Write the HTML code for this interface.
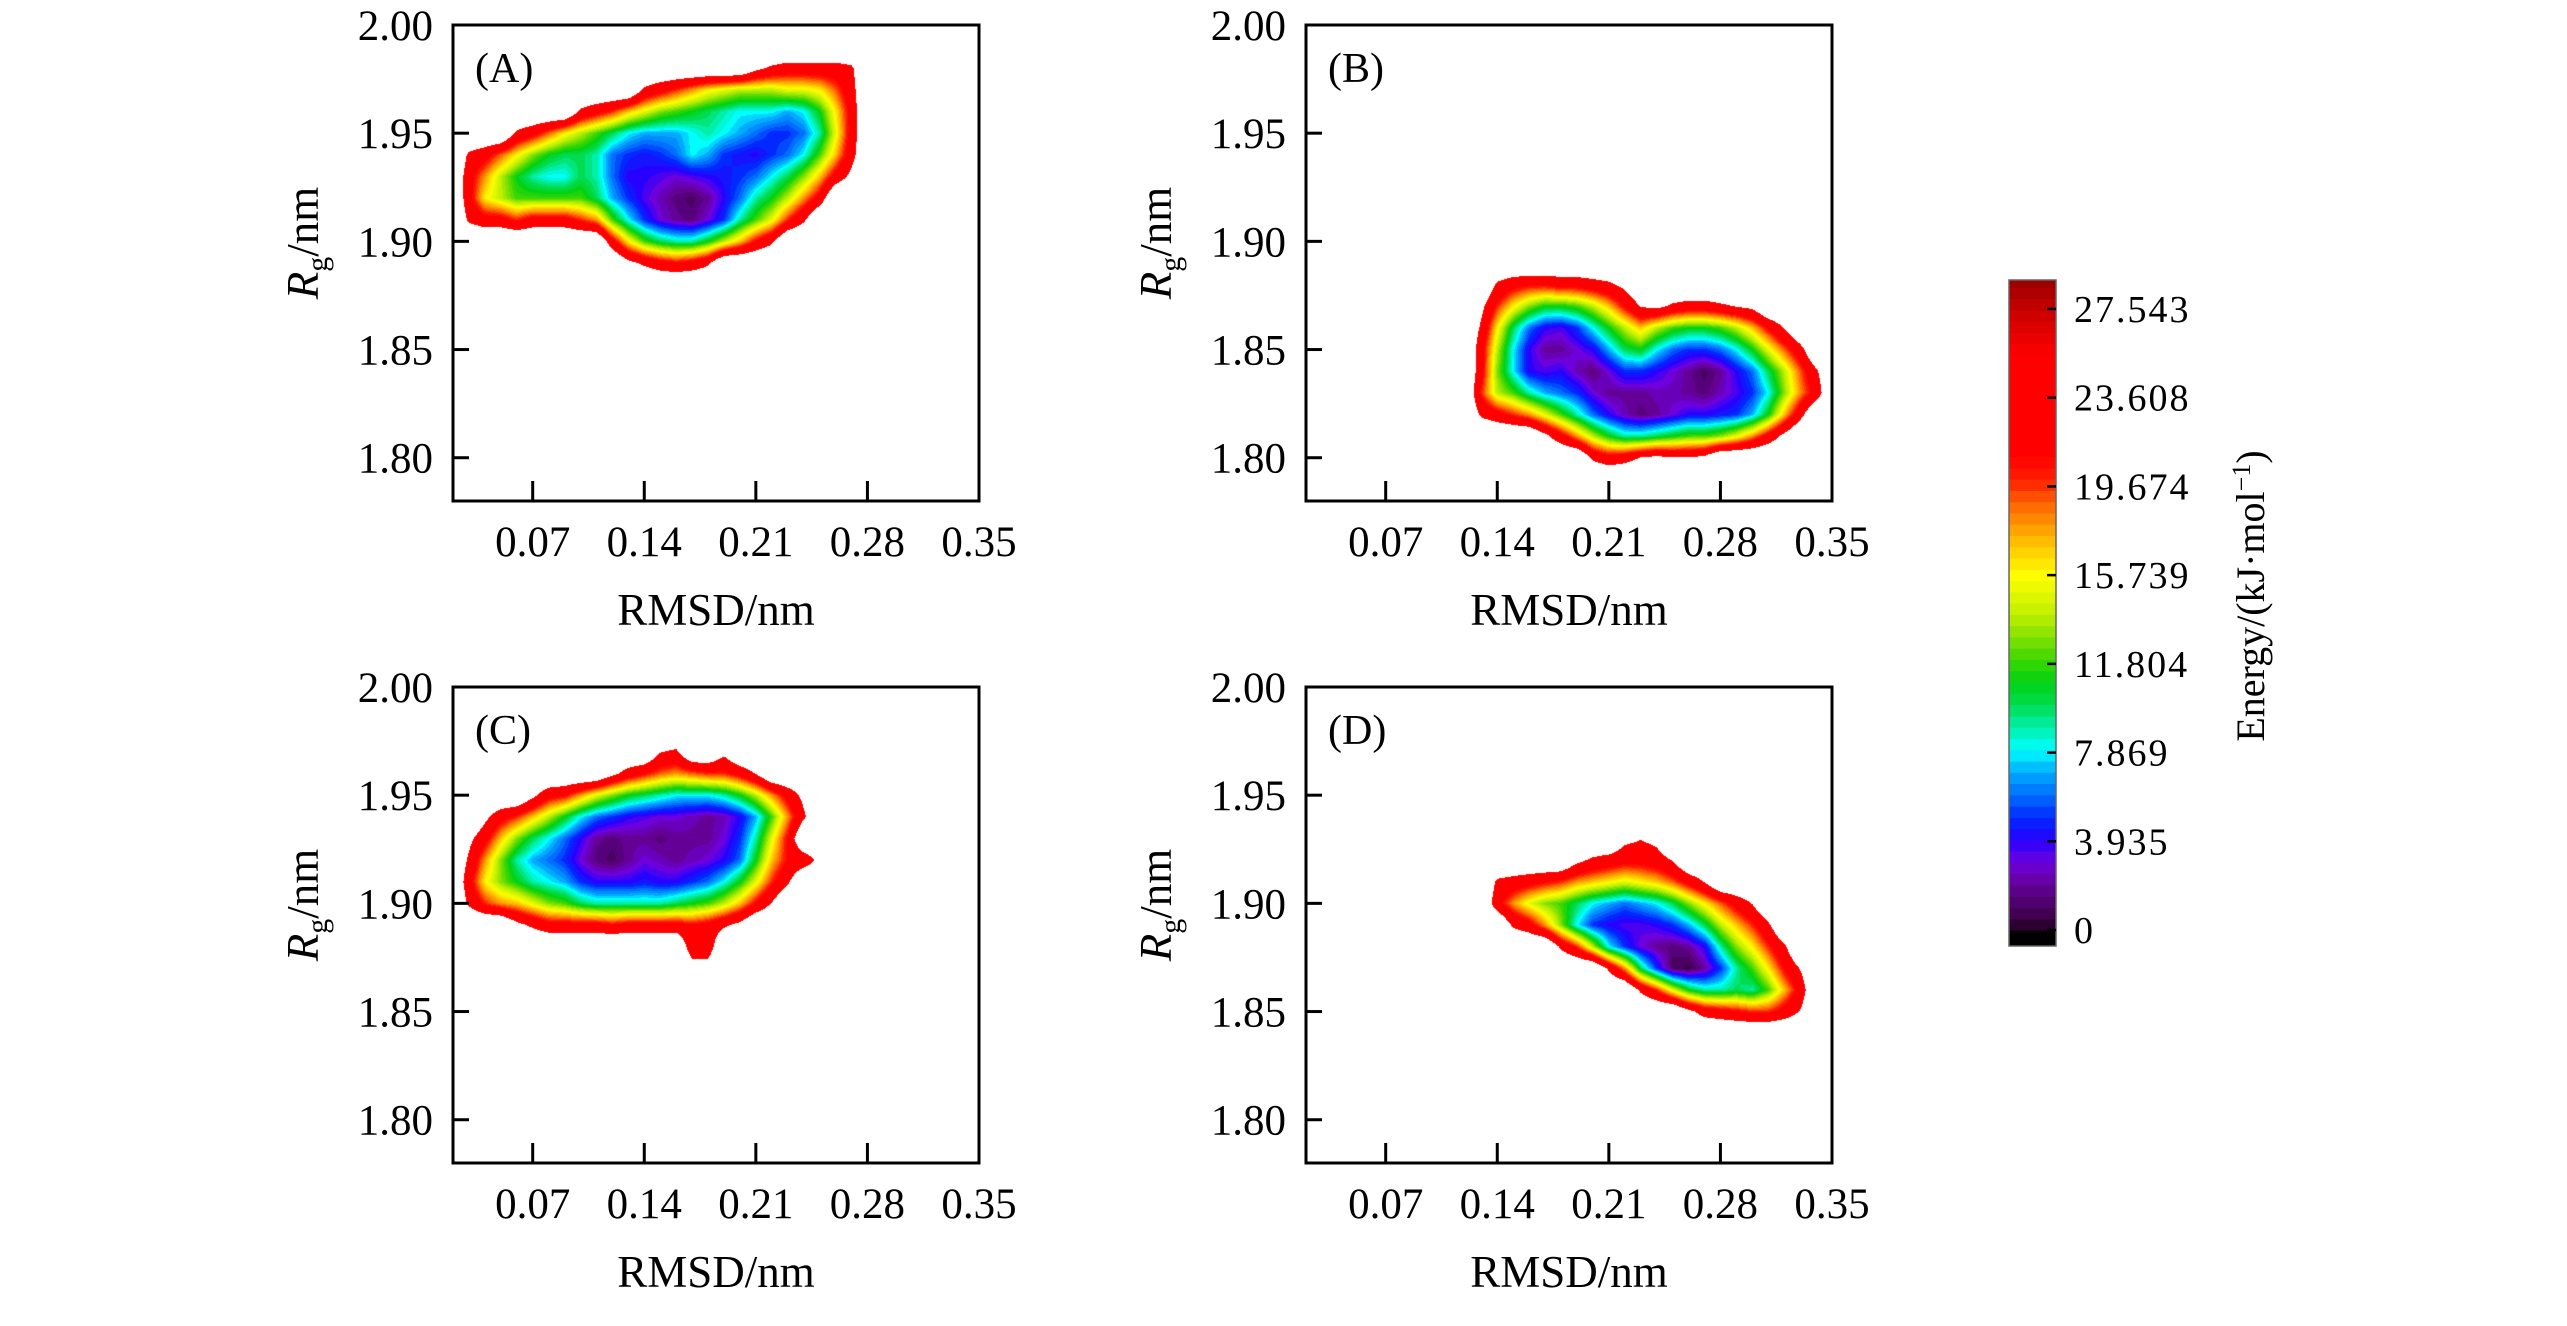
<!DOCTYPE html>
<html><head><meta charset="utf-8"><style>
html,body{margin:0;padding:0;background:#fff;}
#wrap{position:relative;width:2567px;height:1326px;overflow:hidden;background:#fff;}
canvas{position:absolute;}
svg{position:absolute;left:0;top:0;}
text{font-family:"Liberation Serif","Times New Roman",serif;fill:#000;}
</style></head><body>
<div id="wrap">
<svg id="svg" width="2567" height="1326"></svg>
</div>
<script>
// ---- axis data ----
const xTicks=[0.07,0.14,0.21,0.28,0.35];
const xTickLabels=["0.07","0.14","0.21","0.28","0.35"];
const yTicks=[1.80,1.85,1.90,1.95,2.00];
const yTickLabels=["1.80","1.85","1.90","1.95","2.00"];
const cbTicks=[0,3.935,7.869,11.804,15.739,19.674,23.608,27.543];
const cbTickLabels=["0","3.935","7.869","11.804","15.739","19.674","23.608","27.543"];
const panelLetters=["(A)","(B)","(C)","(D)"];

// ---- energy grids (rows: y value, starting x, energies at 0.01 steps) ----
const rowsA_y=[1.98,1.97,1.96,1.95,1.94,1.93,1.92,1.91,1.90,1.89];
const rowsA_x0=[0.21,0.14,0.10,0.06,0.03,0.03,0.03,0.03,0.12,0.13];
const rowsA_v=[
[26,24,23,23,23,23,24],
[24,22,20,18,16,15,14,14,14,15,15,16,19,23],
[24,22,20,17,15,13,12,11,10,9,8,8,8,7,8,11,16,22],
[24,22,19,16,14,12,10,8,7,7,7,8,9,8,7,6,5,5,6,9,15,22],
[24,22,19,16,13,11,10,10,9,6,5,4.5,5,6,8,7,5,4.5,4,5,6,8,12,17,23],
[22,18,14,11,9,8,8,10,9,6,4,4,3.5,3,3.5,4,4.5,5,6,8,10,13,17,22,26],
[22,16,14,12,12,12,12,12,10,7,5,3.5,2.5,1.5,1,2,4,6,9,11,14,18,22],
[24,22,22,20,22,22,22,20,18,12,8,5,3,2,1.5,3,5,9,12,15,20,24],
[22,16,12,10,9,9,11,14,17,21,24],
[26,24,22,21,22,24]];

const rowsB_y=[1.88,1.87,1.86,1.85,1.84,1.83,1.82,1.81,1.80];
const rowsB_x0=[0.14,0.13,0.13,0.13,0.13,0.13,0.13,0.17,0.20];
const rowsB_v=[
[24,22,21,21,22,22,23,24,26],
[26,20,16,13,11,11,12,14,17,21,25,26,24,23,23,24,25,26],
[24,16,10,6,4,3.5,5,8,11,14,17,14,12,11,11,12,14,17,21,25],
[22,14,8,4,2,2,3,4,7,10,11,8,6,5,5,6,8,11,15,19,23],
[22,13,8,4,3.5,4,2.5,1.5,3,5,5,4,3,2,1,2,4,6,10,14,19,24],
[20,14,12,9,7,6,5,3,2,2,2,2.5,2.5,2,1.5,2.5,3.5,5,8,13,18,22],
[24,22,20,18,15,12,9,6,4,2.5,1.5,2,3,4,4,4.5,5,7,11,17,23],
[26,22,18,14,11,9,9,10,11,12,12,13,15,18,22,26],
[24,22,23,25,26,25,25,26]];

const rowsC_y=[1.97,1.96,1.95,1.94,1.93,1.92,1.91,1.90,1.89,1.88,1.87];
const rowsC_x0=[0.15,0.12,0.07,0.04,0.03,0.03,0.03,0.03,0.06,0.17,0.17];
const rowsC_v=[
[25,24,30,30,26],
[26,23,21,19,18,19,20,20,22,25],
[26,22,21,18,15,13,11,10,9,8,8,8,9,11,14,18,22,26],
[26,22,20,17,14,11,8,6,5,4,3.5,3,3,2.5,2,2.5,4,7,12,18,24],
[26,22,17,13,10,8,6,4,2,1.5,2,2,1.5,2,2,2,3,5,9,15,21],
[24,18,13,9,7,6,5,3,1.5,1,2,3,2.5,2,2.5,3,4,6,11,17,21,22,26],
[22,16,13,11,9,8,7,5,4,4,4,4.5,4,4,5,6,8,11,15,20,24],
[24,20,18,17,15,13,12,10,9,9,9,9,9,10,11,12,14,17,21,25],
[26,24,22,22,22,22,21,22,22,22,22,21,22,24,26],
[22,22],
[27,27]];

const rowsD_y=[1.93,1.92,1.91,1.90,1.89,1.88,1.87,1.86,1.85];
const rowsD_x0=[0.22,0.19,0.14,0.14,0.15,0.18,0.21,0.23,0.26];
const rowsD_v=[
[26,25,26],
[26,24,23,22,22,23,25],
[24,23,22,21,20,18,17,16,15,16,17,19,22,25],
[22,18,15,13,12,10,8,7,6,7,8,10,13,16,19,22,25],
[24,22,18,13,8,5,4,3.5,3.5,4,5,7,10,14,17,20,24],
[24,20,14,8,5,3,2,1.5,2,4,9,13,16,20,24],
[24,18,10,5,1,0.5,2,5,9,12,16,21,25],
[24,20,15,11,9,9,10,9,12,17,22],
[26,23,22,21,20,20,22,25]];

// ---- layout ----
const X0=0.02,X1=0.35,Y0=1.78,Y1=2.00,EMPTY=30,CUTOFF=24.8;
const panels=[
 {L:453,R:979,T:25,B:501,y:rowsA_y,x0:rowsA_x0,v:rowsA_v},
 {L:1306,R:1832,T:25,B:501,y:rowsB_y,x0:rowsB_x0,v:rowsB_v},
 {L:453,R:979,T:687,B:1163,y:rowsC_y,x0:rowsC_x0,v:rowsC_v},
 {L:1306,R:1832,T:687,B:1163,y:rowsD_y,x0:rowsD_x0,v:rowsD_v}];
const CB={L:2009,R:2056,T:280,B:946,vTop:28.83,v0px:930,v27px:309};

const stops=[[0,30,0,30],[0.5,60,0,70],[2,100,0,150],[3,110,0,220],[4,40,0,255],[5,0,40,255],[6,0,110,255],[7,0,170,255],[8,0,255,255],[9,0,240,170],[10,0,220,80],[11,0,210,20],[12,60,215,0],[13,130,225,0],[14,190,240,0],[15.7,255,255,0],[17,255,200,0],[18,255,150,0],[19,255,95,0],[20,255,30,0],[21,255,0,0],[25.5,255,0,0],[27,215,0,0],[29,150,0,0]];
function cmap(v){
  if(v<=stops[0][0]) return stops[0].slice(1);
  for(let i=1;i<stops.length;i++){
    if(v<=stops[i][0]){const a=stops[i-1],b=stops[i],t=(v-a[0])/(b[0]-a[0]);
      return [a[1]+(b[1]-a[1])*t,a[2]+(b[2]-a[2])*t,a[3]+(b[3]-a[3])*t];}
  }
  return stops[stops.length-1].slice(1);
}
const NS="http://www.w3.org/2000/svg";
const svg=document.getElementById('svg');
function mk(tag,attrs,parent){const e=document.createElementNS(NS,tag);for(const k in attrs)e.setAttribute(k,attrs[k]);(parent||svg).appendChild(e);return e;}

panels.forEach((p,pi)=>{
  const w=p.R-p.L,h=p.B-p.T;
  const sx=x=>p.L+(x-X0)/(X1-X0)*w;
  const sy=y=>p.B-(y-Y0)/(Y1-Y0)*h;
  const nx=Math.round((X1-X0)/0.01)+1, ny=Math.round((Y1-Y0)/0.01)+1;
  const G=[];for(let j=0;j<ny;j++){G.push(new Array(nx).fill(EMPTY));}
  p.y.forEach((yy,r)=>{const j=Math.round((yy-Y0)/0.01);const i0=Math.round((p.x0[r]-X0)/0.01);
    p.v[r].forEach((val,k)=>{if(G[j]&&i0+k<nx)G[j][i0+k]=val;});});
  const cv=document.createElement('canvas');cv.width=w;cv.height=h;
  cv.style.left=p.L+'px';cv.style.top=p.T+'px';
  
  
  document.getElementById('wrap').insertBefore(cv,svg);
  const ctx=cv.getContext('2d');const img=ctx.createImageData(w,h);
  for(let py=0;py<h;py++){
    const yv=Y1-(py+0.5)/h*(Y1-Y0);const gy=(yv-Y0)/0.01;const j0=Math.floor(gy),fy=gy-j0;
    for(let px=0;px<w;px++){
      const xv=X0+(px+0.5)/w*(X1-X0);const gx=(xv-X0)/0.01;const i0=Math.floor(gx),fx=gx-i0;
      const g=(j,i)=>(G[j]&&G[j][i]!==undefined)?G[j][i]:EMPTY;
      const v=(g(j0,i0)*(1-fx)+g(j0,i0+1)*fx)*(1-fy)+(g(j0+1,i0)*(1-fx)+g(j0+1,i0+1)*fx)*fy;
      const o=(py*w+px)*4;
      if(v>CUTOFF){img.data[o+3]=0;continue;}
      const q=Math.round(v*2)/2;const c=cmap(q);
      img.data[o]=c[0];img.data[o+1]=c[1];img.data[o+2]=c[2];img.data[o+3]=255;
    }
  }
  ctx.putImageData(img,0,0);
  const g=mk('g',{});
  
  
  const fr=mk('rect',{x:p.L,y:p.T,width:w,height:h,fill:'none',stroke:'#000','stroke-width':3},g);
  
  
  xTicks.forEach((t,k)=>{
    if(t<X1-1e-9){const tl=mk('line',{x1:sx(t),x2:sx(t),y1:p.B,y2:p.B-20,stroke:'#000','stroke-width':3},g);
      
      }
    const tx=mk('text',{x:sx(t),y:p.B+55,'font-size':43,'text-anchor':'middle'},g);tx.textContent=xTickLabels[k];
    
    
  });
  yTicks.forEach((t,k)=>{
    if(t<Y1-1e-9){const tl=mk('line',{x1:p.L,x2:p.L+16,y1:sy(t),y2:sy(t),stroke:'#000','stroke-width':3},g);
      
      }
    const tx=mk('text',{x:p.L-20,y:sy(t)+15,'font-size':43,'text-anchor':'end'},g);tx.textContent=yTickLabels[k];
    
    
  });
  const xt=mk('text',{x:(p.L+p.R)/2,y:p.B+124,'font-size':45,'text-anchor':'middle'},g);xt.textContent='RMSD/nm';
  
  
  const cx=p.L-135,cy=p.T+218;
  const yt=mk('text',{x:cx,y:cy,'font-size':45,'text-anchor':'middle',transform:'rotate(-90 '+cx+' '+cy+')'},g);
  
  
  const t1=mk('tspan',{'font-style':'italic'},yt);t1.textContent='R';
  const t2=mk('tspan',{dy:9,'font-size':30},yt);t2.textContent='g';
  const t3=mk('tspan',{dy:-9},yt);t3.textContent='/nm';
  const pl=mk('text',{x:p.L+22,y:p.T+57,'font-size':42},g);pl.textContent=panelLetters[pi];
  
  
});

// ---- colorbar ----
const cbg=mk('g',{});


const pxPer=(CB.v0px-CB.v27px)/27.543;
const cby=v=>CB.v0px-v*pxPer;
const blk=mk('rect',{x:CB.L,y:CB.v0px,width:CB.R-CB.L,height:CB.B-CB.v0px,fill:'#000'},cbg);


for(let v=0;v<CB.vTop;v+=0.5){
  const c=cmap(v+0.25);const y1=cby(Math.min(v+0.5,CB.vTop)),y0=cby(v);
  const r=mk('rect',{x:CB.L,y:y1,width:CB.R-CB.L,height:y0-y1+0.6,fill:'rgb('+c.map(Math.round).join(',')+')'},cbg);
  
  
}
const cbf=mk('rect',{x:CB.L,y:CB.T,width:CB.R-CB.L,height:CB.B-CB.T,fill:'none',stroke:'#666','stroke-width':1.5},cbg);


cbTicks.forEach((t,k)=>{
  const l=mk('line',{x1:CB.R-9,x2:CB.R,y1:cby(t),y2:cby(t),stroke:'#000','stroke-width':2.5},cbg);
  
  
  const tx=mk('text',{x:CB.R+18,y:cby(t)+13,'font-size':38,'letter-spacing':2},cbg);tx.textContent=cbTickLabels[k];
  
  
});
const ecx=2264,ecy=596;
const et=mk('text',{x:ecx,y:ecy,'font-size':40,'text-anchor':'middle',transform:'rotate(-90 '+ecx+' '+ecy+')'},cbg);


const e1=mk('tspan',{},et);e1.textContent='Energy/(kJ·mol';
const e2=mk('tspan',{dy:-14,'font-size':26},et);e2.textContent='−1';
const e3=mk('tspan',{dy:14},et);e3.textContent=')';
</script>
</body></html>
